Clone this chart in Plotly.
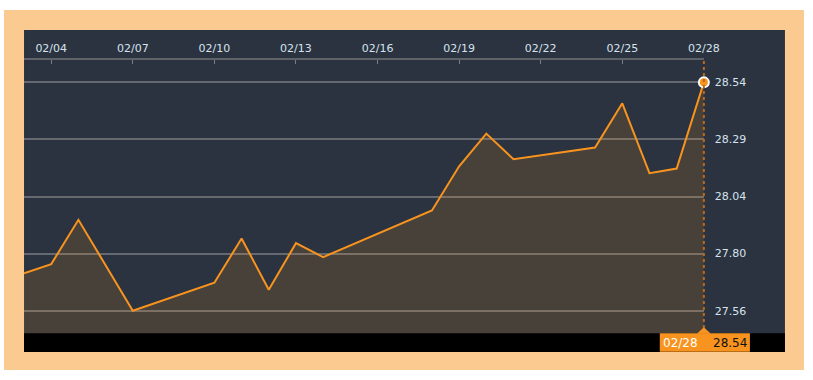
import plotly.graph_objects as go
import numpy as np

# ---- data ----
dates = ["2020-02-03", "2020-02-04", "2020-02-05", "2020-02-07", "2020-02-10",
         "2020-02-11", "2020-02-12", "2020-02-13", "2020-02-14", "2020-02-18",
         "2020-02-19", "2020-02-20", "2020-02-21", "2020-02-24", "2020-02-25",
         "2020-02-26", "2020-02-27", "2020-02-28"]
prices = [27.72, 27.76, 27.95, 27.56, 27.68,
          27.87, 27.65, 27.85, 27.79, 27.99,
          28.18, 28.32, 28.21, 28.26, 28.45,
          28.15, 28.17, 28.54]
x_tick_dates = ["2020-02-04", "2020-02-07", "2020-02-10", "2020-02-13", "2020-02-16",
                "2020-02-19", "2020-02-22", "2020-02-25", "2020-02-28"]
x_tick_labels = ["02/04", "02/07", "02/10", "02/13", "02/16",
                 "02/19", "02/22", "02/25", "02/28"]
y_tick_labels = ["27.56", "27.80", "28.04", "28.29", "28.54"]
last_date_label = "02/28"
last_price_label = "28.54"

# ---- styles / layout ----
REF_W, H = 813, 380          # reference coordinate system
W = 830                      # figure width (compensates horizontal squeeze of the capture)
ORANGE = "#F7931E"
PANEL = "#2A333F"
GRID = "#666A70"
TXT = "#D6E2EE"
FONT = "DejaVu Sans"

PLOT_L, PLOT_R, PLOT_T, PLOT_B = 24, 703, 60, 333.3

fig = go.Figure()


def rect(x0, x1, y0, y1):
    return [x0, x1, x1, x0, x0], [y0, y0, y1, y1, y0]


# background decoration on pixel axes (x, y)
fx, fy = rect(4, 803, 10, 370)
fig.add_trace(go.Scatter(x=fx, y=fy, mode="lines", fill="toself",
                         line=dict(width=0), fillcolor="white",
                         fillpattern=dict(shape=".", fgcolor=ORANGE, bgcolor="white",
                                          size=2, solidity=0.9),
                         hoverinfo="skip", showlegend=False, xaxis="x", yaxis="y"))
px_, py_ = rect(24, 784, 30, 352)
fig.add_trace(go.Scatter(x=px_, y=py_, mode="lines", fill="toself",
                         line=dict(width=0), fillcolor=PANEL,
                         hoverinfo="skip", showlegend=False, xaxis="x", yaxis="y"))
bx, by = rect(24, 784, PLOT_B, 352)
fig.add_trace(go.Scatter(x=bx, y=by, mode="lines", fill="toself",
                         line=dict(width=0), fillcolor="#000000",
                         hoverinfo="skip", showlegend=False, xaxis="x", yaxis="y"))

# data
fig.add_trace(go.Scatter(x=dates, y=prices, mode="lines",
                         line=dict(color=ORANGE, width=2),
                         fill="tozeroy", fillcolor="rgba(247,147,30,0.15)",
                         showlegend=False, xaxis="x2", yaxis="y2"))
fig.add_trace(go.Scatter(x=[dates[-1]], y=[prices[-1]], mode="markers",
                         marker=dict(color=ORANGE, size=10, line=dict(color="white", width=2)),
                         showlegend=False, xaxis="x2", yaxis="y2", cliponaxis=False))

y_lo, y_hi = 27.463, 28.636
y_tickvals = list(np.linspace(float(y_tick_labels[0]), float(y_tick_labels[-1]), len(y_tick_labels)))

shapes = [
    dict(type="line", xref="x", yref="y", x0=PLOT_R, x1=PLOT_R, y0=PLOT_T + 1, y1=PLOT_B,
         line=dict(color="#B8691F", width=2, dash="dot"), layer="above"),
    dict(type="rect", xref="x", yref="y", x0=PLOT_R - 44, x1=PLOT_R + 46,
         y0=PLOT_B, y1=351.7, fillcolor=ORANGE, line=dict(width=0), layer="above"),
    dict(type="path", xref="x", yref="y",
         path=f"M{PLOT_R - 7},{PLOT_B + 0.5} L{PLOT_R},{PLOT_B - 6} L{PLOT_R + 7},{PLOT_B + 0.5} Z",
         fillcolor=ORANGE, line=dict(width=0), layer="above"),
]

annotations = [
    dict(x=PLOT_R - 4, xref="x", y=342.5, yref="y", text=last_date_label, showarrow=False,
         xanchor="right", font=dict(family=FONT, size=12, color="#FFFFFF")),
    dict(x=PLOT_R + 7, xref="x", y=342.5, yref="y", text=last_price_label, showarrow=False,
         xanchor="left", font=dict(family=FONT, size=12, color="#111111")),
]

fig.update_layout(
    width=W, height=H,
    margin=dict(l=0, r=0, t=0, b=0),
    paper_bgcolor="white", plot_bgcolor="rgba(0,0,0,0)",
    font=dict(family=FONT, size=11, color=TXT),
    showlegend=False,
    shapes=shapes, annotations=annotations,
    xaxis=dict(domain=[0, 1], range=[0, REF_W], visible=False, fixedrange=True),
    yaxis=dict(domain=[0, 1], range=[H, 0], visible=False, fixedrange=True),
    xaxis2=dict(domain=[PLOT_L / REF_W, PLOT_R / REF_W], anchor="y2", type="date",
                side="top", range=[dates[0], dates[-1]],
                tickvals=x_tick_dates, ticktext=x_tick_labels,
                ticks="inside", ticklen=4, tickwidth=1, tickcolor="#7A7E84",
                showline=True, linecolor="#5F6369", linewidth=2,
                showgrid=False, zeroline=False, ticklabelstandoff=2,
                tickfont=dict(family=FONT, size=11, color=TXT)),
    yaxis2=dict(domain=[(H - PLOT_B) / H, (H - PLOT_T) / H], anchor="x2", side="right",
                range=[y_lo, y_hi], tickvals=y_tickvals, ticktext=y_tick_labels,
                showgrid=True, gridcolor=GRID, gridwidth=2, zeroline=False,
                showline=False, ticks="", ticklabelstandoff=10,
                tickfont=dict(family=FONT, size=11, color=TXT)),
)

fig.write_html("out.html", config={"displayModeBar": False},
               post_script="document.body.style.margin='0';")
